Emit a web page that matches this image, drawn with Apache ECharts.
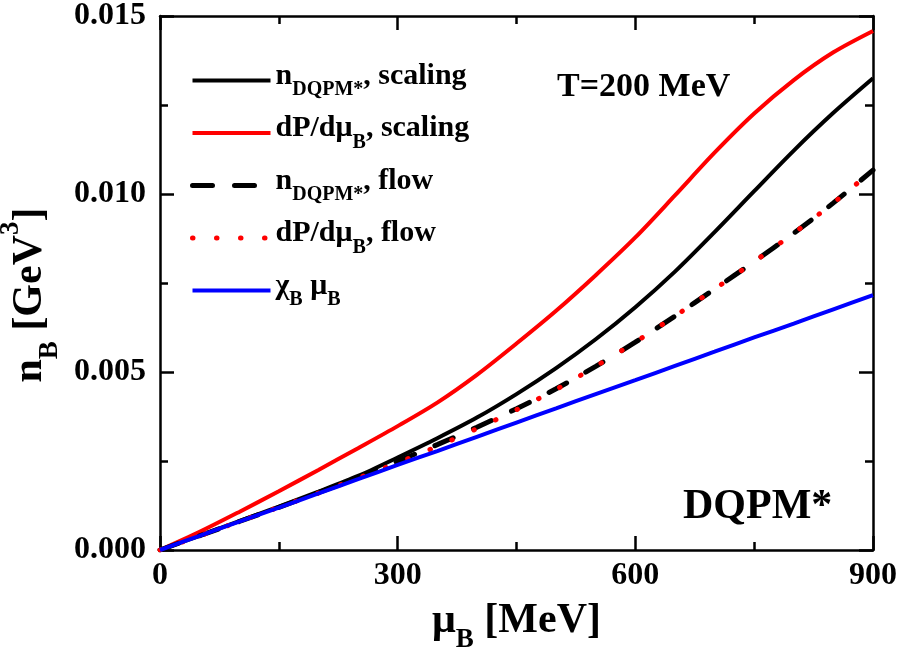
<!DOCTYPE html>
<html>
<head>
<meta charset="utf-8">
<script src="https://cdn.jsdelivr.net/npm/echarts@6/dist/echarts.min.js"></script>
<style>
  html, body { margin: 0; padding: 0; background: #fff; }
  #chart { width: 900px; height: 652px; }
</style>
</head>
<body>
<div id="chart"></div>
<script>
// baryon chemical potential grid [MeV]
const muB = [0, 50, 100, 150, 200, 250, 300, 350, 400, 450, 500, 550, 600, 650, 700, 750, 800, 850, 900];

// baryon density n_B [GeV^3]
const nDqpmScaling = [0, 0.00040, 0.00081, 0.00122, 0.00164, 0.00208, 0.00260, 0.00314, 0.00372, 0.00438, 0.00511, 0.00592, 0.00682, 0.00782, 0.00893, 0.01008, 0.01122, 0.01228, 0.01325];
const dPdmuScaling = [0, 0.00051, 0.00107, 0.00165, 0.00225, 0.00286, 0.00348, 0.00414, 0.00492, 0.00580, 0.00672, 0.00772, 0.00878, 0.00996, 0.01116, 0.01226, 0.01320, 0.01398, 0.01458];
const nDqpmFlow = [0, 0.00040, 0.00080, 0.00120, 0.00161, 0.00204, 0.00249, 0.00296, 0.00345, 0.00397, 0.00453, 0.00516, 0.00584, 0.00657, 0.00733, 0.00810, 0.00890, 0.00975, 0.01067];
const dPdmuFlow = [0, 0.00040, 0.00080, 0.00120, 0.00160, 0.00202, 0.00245, 0.00291, 0.00341, 0.00394, 0.00451, 0.00516, 0.00584, 0.00657, 0.00733, 0.00810, 0.00890, 0.00975, 0.01067];
const chiMu = [0, 0.00040, 0.00080, 0.00119, 0.00159, 0.00199, 0.00239, 0.00278, 0.00318, 0.00358, 0.00398, 0.00438, 0.00477, 0.00517, 0.00557, 0.00597, 0.00636, 0.00676, 0.00716];

const xTicks = { min: 0, max: 900, interval: 300 };
const yTicks = { min: 0, max: 0.015, interval: 0.005 };

const FONT = '"Liberation Serif", "Times New Roman", serif';

function pairs(ys) { return muB.map((x, i) => [x, ys[i]]); }

const chart = echarts.init(document.getElementById('chart'), null, { renderer: 'canvas' });

const axisLine = { show: true, onZero: false, lineStyle: { color: '#000', width: 2.5 } };
const tick = { show: true, inside: true, length: 14, lineStyle: { color: '#000', width: 2.5 } };
const minor = { show: true, splitNumber: 2, length: 8, lineStyle: { color: '#000', width: 2.5 } };
const labelStyle = { color: '#000', fontFamily: FONT, fontWeight: 'bold', fontSize: 32 };

const subRich = {
  m: { fontFamily: FONT, fontWeight: 'bold', fontSize: 30, color: '#000', padding: [0, 0, 9, 0], verticalAlign: 'bottom' },
  s: { fontFamily: FONT, fontWeight: 'bold', fontSize: 20, color: '#000', verticalAlign: 'bottom' }
};

const legendNames = {
  'nDqpmScaling': '{m|n}{s|DQPM*}{m|, scaling}',
  'dPdmuScaling': '{m|dP/dμ}{s|B}{m|, scaling}',
  'nDqpmFlow': '{m|n}{s|DQPM*}{m|, flow}',
  'dPdmuFlow': '{m|dP/dμ}{s|B}{m|, flow}',
  'chiMu': '{m|χ}{s|B}{m| μ}{s|B}'
};

function lineSeries(name, ys, color, width, dash) {
  return {
    name: name,
    type: 'line',
    data: pairs(ys),
    symbol: 'none',
    smooth: 0.3,
    xAxisIndex: 0,
    yAxisIndex: 0,
    lineStyle: { color: color, width: width, type: dash || 'solid', cap: dash ? 'round' : 'butt' },
    itemStyle: { color: color },
    emphasis: { disabled: true }
  };
}

chart.setOption({
  animation: false,
  backgroundColor: '#fff',
  grid: { left: 160, right: 27, top: 16, bottom: 102, show: false, containLabel: false, outerBoundsMode: 'none' },
  xAxis: [
    {
      type: 'value', position: 'bottom', min: xTicks.min, max: xTicks.max, interval: xTicks.interval,
      axisLine: axisLine, axisTick: tick, minorTick: minor, splitLine: { show: false }, minorSplitLine: { show: false },
      axisLabel: Object.assign({ margin: 10 }, labelStyle),
      name: '{m|μ}{s|B}{m| [MeV]}', nameLocation: 'middle', nameGap: 50,
      nameTextStyle: {
        rich: {
          m: { fontFamily: FONT, fontWeight: 'bold', fontSize: 42, color: '#000', padding: [0, 0, 12, 0], verticalAlign: 'bottom' },
          s: { fontFamily: FONT, fontWeight: 'bold', fontSize: 27, color: '#000', verticalAlign: 'bottom' }
        }
      }
    },
    {
      type: 'value', position: 'top', min: xTicks.min, max: xTicks.max, interval: xTicks.interval, show: true,
      axisLine: axisLine, axisTick: tick, minorTick: minor, splitLine: { show: false }, minorSplitLine: { show: false },
      axisLabel: { show: false }
    }
  ],
  yAxis: [
    {
      type: 'value', position: 'left', min: yTicks.min, max: yTicks.max, interval: yTicks.interval,
      axisLine: axisLine, axisTick: tick, minorTick: minor, splitLine: { show: false }, minorSplitLine: { show: false },
      axisLabel: Object.assign({ margin: 14, formatter: v => v.toFixed(3) }, labelStyle),
      name: '{m|n}{s|B}{m| [GeV}{p|3}{e|]}', nameLocation: 'middle', nameGap: 94, nameRotate: 90,
      nameTextStyle: {
        rich: {
          m: { fontFamily: FONT, fontWeight: 'bold', fontSize: 42, color: '#000', padding: [12, 0, 12, 0], verticalAlign: 'middle' },
          e: { fontFamily: FONT, fontWeight: 'bold', fontSize: 42, color: '#000', padding: [12, 24, 12, 0], verticalAlign: 'middle' },
          s: { fontFamily: FONT, fontWeight: 'bold', fontSize: 27, color: '#000', verticalAlign: 'bottom' },
          p: { fontFamily: FONT, fontWeight: 'bold', fontSize: 27, color: '#000', verticalAlign: 'top' }
        }
      }
    },
    {
      type: 'value', position: 'right', min: yTicks.min, max: yTicks.max, interval: yTicks.interval, show: true,
      axisLine: axisLine, axisTick: tick, minorTick: minor, splitLine: { show: false }, minorSplitLine: { show: false },
      axisLabel: { show: false }
    }
  ],
  legend: {
    show: true,
    orient: 'vertical',
    left: 190,
    top: 61,
    padding: 0,
    itemWidth: 78,
    itemHeight: 14,
    itemGap: 13.5,
    selectedMode: false,
    itemStyle: { opacity: 0 },
    lineStyle: { width: 'inherit' },
    data: Object.keys(legendNames),
    formatter: name => legendNames[name],
    textStyle: { rich: subRich }
  },
  graphic: [
    {
      type: 'text', left: 557, top: 70,
      style: { text: 'T=200 MeV', fill: '#000', font: 'bold 34px ' + FONT }
    },
    {
      type: 'text', left: 683, top: 486,
      style: { text: 'DQPM*', fill: '#000', font: 'bold 42px ' + FONT }
    }
  ],
  series: [
    lineSeries('nDqpmScaling', nDqpmScaling, '#000000', 4),
    lineSeries('dPdmuScaling', dPdmuScaling, '#ff0000', 4),
    lineSeries('nDqpmFlow', nDqpmFlow, '#000000', 5, [20, 22]),
    lineSeries('dPdmuFlow', dPdmuFlow, '#ff0000', 5, [0.5, 23.5]),
    lineSeries('chiMu', chiMu, '#0000ff', 4)
  ]
});
</script>
</body>
</html>
